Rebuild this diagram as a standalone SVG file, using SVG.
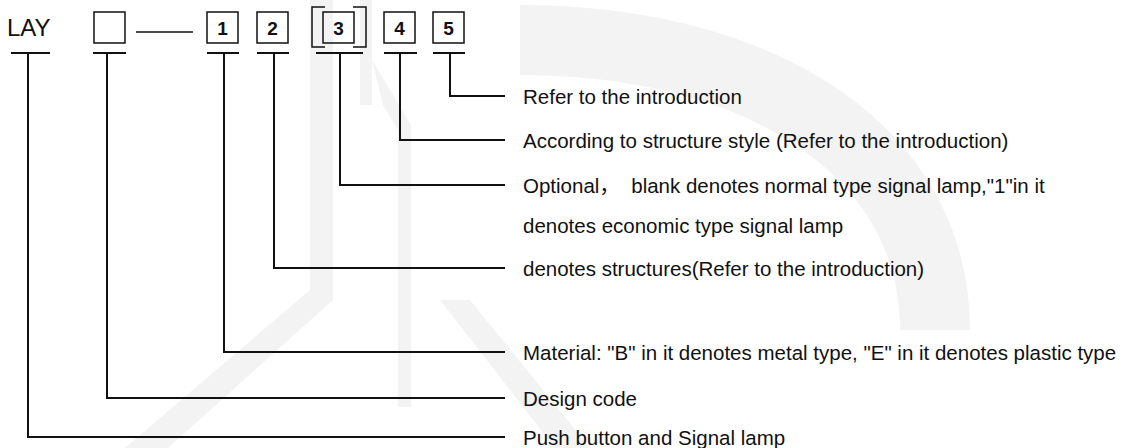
<svg xmlns="http://www.w3.org/2000/svg" width="1122" height="448" viewBox="0 0 1122 448">
<style>
.wm{fill:#f3f3f3;stroke:none}
.wms{fill:none;stroke:#f3f3f3}
.box{fill:none;stroke:#111;stroke-width:1.5}
.brk{fill:none;stroke:#111;stroke-width:1.5}
.bar{stroke:#111;stroke-width:2;fill:none}
.lead{stroke:#111;stroke-width:2;fill:none}
.dig{font-family:"Liberation Sans",Arial,sans-serif;font-size:19px;font-weight:bold;fill:#111;text-anchor:middle}
.lbl{font-family:"Liberation Sans","Noto Sans CJK SC",sans-serif;font-size:20.5px;fill:#111}
.code{font-family:"Liberation Sans",Arial,sans-serif;font-size:24px;fill:#111}
</style>
<rect width="1122" height="448" fill="#fff"/>
<g id="watermark">
<path class="wm" d="M310,0 H333 V300 L168,448 H125 L310,290 Z"/>
<rect class="wm" x="360" y="0" width="12" height="105"/>
<path class="wm" d="M372,60 L411,125 V407 H398 V130 L383,105 Z"/>
<path class="wm" d="M440,300 L470,300 L590,448 L555,448 Z"/>
<path class="wms" stroke-width="70" d="M520,40 C760,40 935,150 935,330"/>
</g>
<g id="node-lay"><text class="code" x="7" y="36">LAY</text><path class="bar" d="M11,53 H50"/></g>
<g id="node-design"><rect class="box" x="94" y="12" width="31" height="31"/><path class="bar" d="M93,53 H126"/></g>
<g id="node-dash"><path class="box" d="M136,32 H193"/></g>
<g id="node-1"><rect class="box" x="207" y="12" width="31" height="31"/><text class="dig" x="222.5" y="35">1</text><path class="bar" d="M207,53 H239"/></g>
<g id="node-2"><rect class="box" x="257" y="12" width="31" height="31"/><text class="dig" x="272.5" y="35">2</text><path class="bar" d="M257,53 H289"/></g>
<g id="node-3"><path class="brk" d="M325,7 H312 V47 H325 M353,7 H366 V47 H353"/><rect class="box" x="323" y="12" width="31" height="31"/><text class="dig" x="338.5" y="35">3</text><path class="bar" d="M316,53 H363"/></g>
<g id="node-4"><rect class="box" x="384" y="12" width="31" height="31"/><text class="dig" x="399.5" y="35">4</text><path class="bar" d="M384,53 H417"/></g>
<g id="node-5"><rect class="box" x="433" y="12" width="31" height="31"/><text class="dig" x="448.5" y="35">5</text><path class="bar" d="M433,53 H465"/></g>
<g id="connectors">
<path class="lead" d="M450,53 V96 H505"/>
<path class="lead" d="M400,53 V140 H505"/>
<path class="lead" d="M340,53 V185 H505"/>
<path class="lead" d="M274,53 V268 H505"/>
<path class="lead" d="M224,53 V352 H505"/>
<path class="lead" d="M107,53 V398 H505"/>
<path class="lead" d="M28,53 V437 H505"/>
</g>
<g id="labels">
<text class="lbl" x="523" y="103.5">Refer to the introduction</text>
<text class="lbl" x="523" y="147.5">According to structure style (Refer to the introduction)</text>
<text class="lbl" x="523" y="192.5" xml:space="preserve">Optional，  blank denotes normal type signal lamp,"1"in it</text>
<text class="lbl" x="523" y="232.5">denotes economic type signal lamp</text>
<text class="lbl" x="523" y="275.5">denotes structures(Refer to the introduction)</text>
<text class="lbl" x="523" y="359.5">Material: "B" in it denotes metal type, "E" in it denotes plastic type</text>
<text class="lbl" x="523" y="405.5">Design code</text>
<text class="lbl" x="523" y="444.5">Push button and Signal lamp</text>
</g>
</svg>
